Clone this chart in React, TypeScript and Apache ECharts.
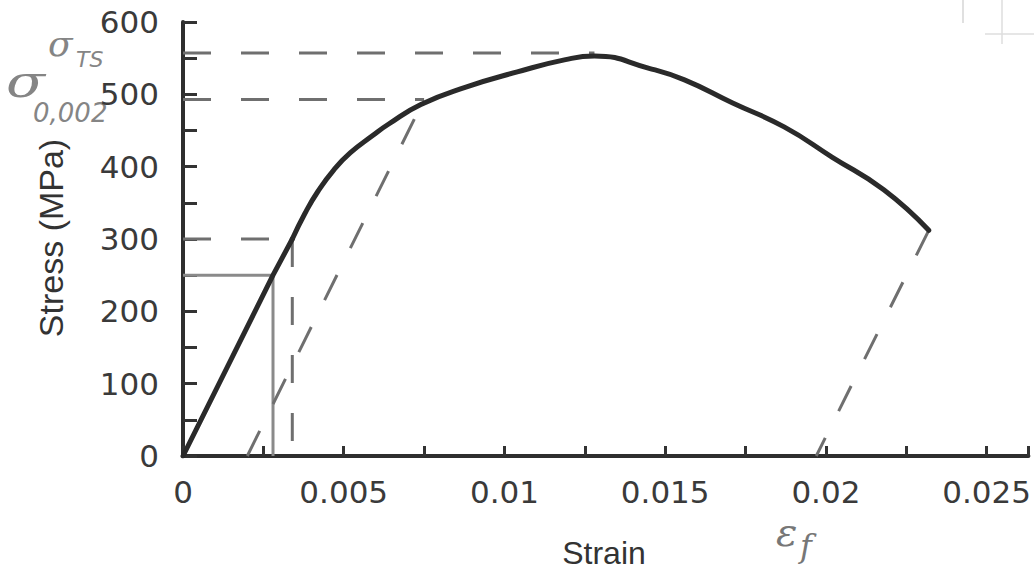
import React, { useEffect, useRef } from "react";
import * as echarts from "echarts";

// Main engineering stress–strain curve
const strain = [0, 0.0028, 0.0034, 0.0038, 0.0042, 0.0047, 0.0052, 0.0059, 0.0064, 0.0074, 0.0088, 0.0104, 0.0119, 0.0128, 0.0145, 0.0156, 0.0171, 0.0187, 0.0202, 0.0218, 0.0232];
const stress = [0, 250, 300, 336, 366, 396, 419, 443, 459, 486, 510, 531, 548, 553, 536, 520, 488, 455, 413, 368, 312];
const elasticEnd = 2; // index where the straight elastic part ends

// Construction lines
const proportional = [0.0028, 250];     // solid grey guide
const marked300 = [0.0034, 300];        // dashed guide at 300 MPa
const yieldPt = [0.0075, 493];          // 0.002 offset yield
const offsetStrain = 0.002;
const tensilePt = [0.0128, 557];        // tensile strength
const fracturePt = [0.0232, 312];       // fracture point
const fractureStrain = 0.0197;          // plastic strain at fracture

const xTickLabels = [0, 0.005, 0.01, 0.015, 0.02, 0.025];
const yTickLabels = [0, 100, 200, 300, 400, 500, 600];

const DASH = [28, 30];
const GREY = "#6f6f6f";
const CURVE = "#2a2a2a";

export default function App() {
  const ref = useRef<HTMLDivElement>(null);
  useEffect(() => {
    const chart = echarts.init(ref.current!, null, { renderer: "svg" });
    const lineSeries = (data: number[][], opts: any = {}) => ({
      type: "line",
      data,
      showSymbol: false,
      symbol: "none",
      clip: false,
      silent: true,
      lineStyle: { color: GREY, width: 3, type: DASH, ...(opts.lineStyle || {}) },
      z: opts.z || 2,
    });
    const pts = strain.map((s, i) => [s, stress[i]]);
    chart.setOption({
      animation: false,
      backgroundColor: "#ffffff",
      grid: { left: 183, right: 5, top: 22, bottom: 115, containLabel: false },
      xAxis: {
        type: "value",
        min: 0,
        max: 0.0263,
        interval: 0.0025,
        axisLine: { show: true, lineStyle: { color: "#2e2e2e", width: 4 } },
        axisTick: { show: true, inside: true, length: 10, lineStyle: { color: "#333", width: 3 } },
        splitLine: { show: false },
        axisLabel: {
          margin: 20,
          fontFamily: "DejaVu Sans",
          fontSize: 31,
          color: "#3a3a3a",
          formatter: (v: number) =>
            xTickLabels.some((t) => Math.abs(t - v) < 1e-7) ? String(+v.toFixed(3)) : "",
        },
      },
      yAxis: {
        type: "value",
        min: 0,
        max: 600,
        interval: 50,
        axisLine: { show: true, lineStyle: { color: "#2e2e2e", width: 4 } },
        axisTick: { show: true, inside: true, length: 14, lineStyle: { color: "#333", width: 3 } },
        splitLine: { show: false },
        axisLabel: {
          margin: 24,
          fontFamily: "DejaVu Sans",
          fontSize: 31,
          color: "#3a3a3a",
          formatter: (v: number) => (yTickLabels.includes(v) ? String(v) : ""),
        },
      },
      series: [
        // solid grey proportional-limit guides
        lineSeries([[0, proportional[1]], proportional], { lineStyle: { type: "solid", color: "#8a8a8a" } }),
        lineSeries([proportional, [proportional[0], 0]], { lineStyle: { type: "solid", color: "#8a8a8a" } }),
        // dashed guides at 300 MPa
        lineSeries([[0, marked300[1]], marked300]),
        lineSeries([marked300, [marked300[0], -16]]),
        // yield strength guide and 0.002 offset line
        lineSeries([[0, yieldPt[1]], yieldPt]),
        lineSeries([[offsetStrain, 0], yieldPt]),
        // tensile strength guide
        lineSeries([[0, tensilePt[1]], tensilePt]),
        // elastic recovery after fracture
        lineSeries([fracturePt, [fractureStrain, 0]]),
        // main curve: straight elastic part
        {
          type: "line",
          data: pts.slice(0, elasticEnd + 1),
          showSymbol: false,
          symbol: "none",
          silent: true,
          lineStyle: { color: CURVE, width: 5, cap: "round" },
          z: 5,
        },
        // main curve: plastic part
        {
          type: "line",
          data: pts.slice(elasticEnd),
          smooth: 0.5,
          showSymbol: false,
          symbol: "none",
          silent: true,
          lineStyle: { color: CURVE, width: 5, cap: "round", join: "round" },
          z: 5,
        },
      ],
      graphic: [
        {
          type: "text",
          x: 51,
          y: 238,
          rotation: Math.PI / 2,
          style: {
            text: "Stress (MPa)",
            fontFamily: "Liberation Sans",
            fontSize: 34,
            fill: "#333",
            align: "center",
            verticalAlign: "middle",
          },
        },
        {
          type: "text",
          x: 604,
          y: 553,
          style: {
            text: "Strain",
            fontFamily: "Liberation Sans",
            fontSize: 32,
            fill: "#333",
            align: "center",
            verticalAlign: "middle",
          },
        },
        // handwritten annotations
        {
          type: "text",
          x: 48,
          y: 25,
          style: { text: "σ", fontFamily: "DejaVu Serif", fontStyle: "italic", fontSize: 36, fill: "#858585" },
        },
        {
          type: "text",
          x: 76,
          y: 48,
          style: { text: "TS", fontFamily: "DejaVu Sans", fontStyle: "italic", fontSize: 22, fill: "#858585" },
        },
        {
          type: "text",
          x: 6,
          y: 60,
          scaleX: 1.3,
          style: { text: "σ", fontFamily: "DejaVu Serif", fontStyle: "italic", fontSize: 44, fill: "#858585" },
        },
        {
          type: "text",
          x: 33,
          y: 100,
          style: { text: "0,002", fontFamily: "DejaVu Sans", fontStyle: "italic", fontSize: 26, fill: "#858585" },
        },
        {
          type: "text",
          x: 776,
          y: 512,
          style: { text: "ε", fontFamily: "DejaVu Serif", fontStyle: "italic", fontSize: 40, fill: "#777" },
        },
        {
          type: "text",
          x: 800,
          y: 530,
          style: { text: "f", fontFamily: "DejaVu Serif", fontStyle: "italic", fontSize: 32, fill: "#777" },
        },
        // faint scan marks top right
        { type: "line", shape: { x1: 963, y1: 0, x2: 963, y2: 23 }, style: { stroke: "#d6d6d6", lineWidth: 1.5 } },
        { type: "line", shape: { x1: 1002, y1: 0, x2: 1002, y2: 44 }, style: { stroke: "#dedede", lineWidth: 1.5 } },
        { type: "line", shape: { x1: 985, y1: 34, x2: 1034, y2: 34 }, style: { stroke: "#dedede", lineWidth: 1.5 } },
      ],
    });
    return () => chart.dispose();
  }, []);
  return (
    <div
      ref={ref}
      style={{ position: "fixed", left: 0, top: 0, width: 1034, height: 571, background: "#fff" }}
    />
  );
}
